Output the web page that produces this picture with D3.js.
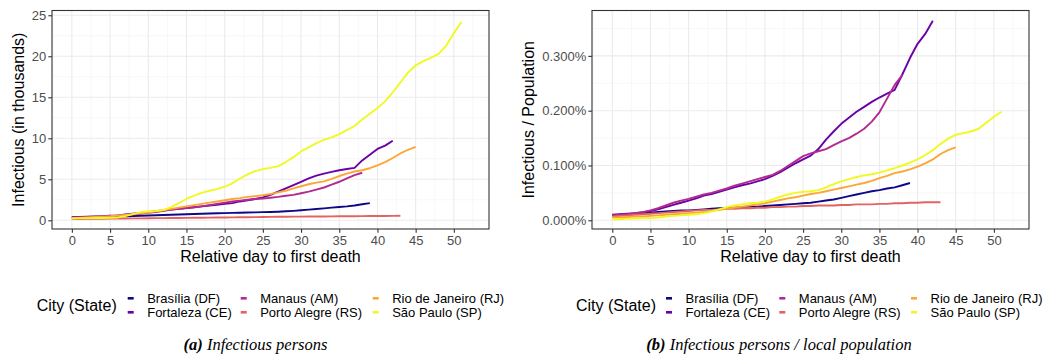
<!DOCTYPE html>
<html><head><meta charset="utf-8">
<script src="https://cdn.jsdelivr.net/npm/d3@7"></script>
<style>body{margin:0;background:#fff}</style>
</head><body>
<svg id="c" width="1045" height="356"></svg>
<script>
// ---- categories ----
const cities = ["Brasília (DF)", "Fortaleza (CE)", "Manaus (AM)", "Porto Alegre (RS)", "Rio de Janeiro (RJ)", "São Paulo (SP)"];
const cityColors = ["#0D0887", "#6A00A8", "#B12A90", "#E16462", "#FCA636", "#F0F921"];

// ---- panel (a): infectious persons, thousands, index = relative day ----
const brasiliaA = [0.35,0.37,0.39,0.41,0.43,0.45,0.47,0.5,0.53,0.56,0.59,0.62,0.65,0.68,0.71,0.74,0.77,0.8,0.83,0.86,0.88,0.9,0.93,0.95,0.97,1.0,1.02,1.05,1.1,1.15,1.22,1.3,1.38,1.46,1.55,1.63,1.7,1.8,1.95,2.1];
const fortalezaA = [0.4,0.42,0.45,0.48,0.5,0.55,0.6,0.7,0.8,0.9,1.0,1.1,1.2,1.3,1.4,1.5,1.6,1.7,1.8,1.9,2.0,2.1,2.3,2.45,2.6,2.8,3.1,3.5,3.9,4.3,4.7,5.1,5.45,5.7,5.9,6.1,6.25,6.4,7.3,8.0,8.7,9.1,9.7];
const manausA = [0.35,0.38,0.4,0.43,0.46,0.5,0.55,0.62,0.7,0.8,0.9,1.0,1.15,1.3,1.4,1.5,1.6,1.7,1.85,2.0,2.15,2.3,2.4,2.5,2.6,2.65,2.75,2.85,3.0,3.1,3.3,3.5,3.75,4.0,4.35,4.7,5.1,5.5,5.8];
const portoAlegreA = [0.15,0.16,0.17,0.18,0.19,0.2,0.21,0.22,0.23,0.24,0.25,0.26,0.27,0.28,0.29,0.3,0.31,0.32,0.33,0.34,0.35,0.36,0.37,0.38,0.39,0.41,0.42,0.44,0.44,0.45,0.45,0.46,0.47,0.47,0.48,0.49,0.5,0.5,0.51,0.52,0.53,0.53,0.54,0.55];
const rioA = [0.25,0.3,0.35,0.4,0.45,0.5,0.58,0.66,0.75,0.85,0.95,1.1,1.25,1.4,1.55,1.7,1.85,2.0,2.15,2.3,2.45,2.6,2.7,2.85,2.95,3.05,3.2,3.4,3.6,3.9,4.15,4.4,4.6,4.75,5.05,5.4,5.7,5.95,6.1,6.35,6.7,7.1,7.6,8.15,8.6,8.95];
const saoPauloA = [0.22,0.25,0.27,0.28,0.29,0.3,0.35,0.5,0.75,1.0,1.1,1.15,1.25,1.6,2.1,2.6,3.0,3.35,3.6,3.8,4.1,4.5,5.1,5.6,6.0,6.25,6.4,6.6,7.1,7.7,8.4,8.9,9.4,9.8,10.1,10.5,11.0,11.5,12.3,13.0,13.7,14.5,15.6,16.8,18.0,18.9,19.4,19.8,20.3,21.3,22.8,24.2];

// ---- panel (b): infectious / population, percent, index = relative day ----
const brasiliaB = [0.009,0.010,0.011,0.012,0.013,0.014,0.015,0.016,0.017,0.018,0.018,0.019,0.020,0.021,0.022,0.022,0.023,0.024,0.025,0.025,0.026,0.027,0.028,0.029,0.030,0.031,0.032,0.034,0.036,0.038,0.041,0.044,0.047,0.050,0.053,0.055,0.058,0.060,0.064,0.068];
const fortalezaB = [0.010,0.011,0.012,0.013,0.015,0.017,0.020,0.024,0.028,0.032,0.036,0.040,0.045,0.048,0.052,0.056,0.060,0.064,0.067,0.071,0.075,0.081,0.088,0.096,0.104,0.111,0.118,0.130,0.147,0.162,0.176,0.187,0.198,0.207,0.216,0.224,0.231,0.238,0.266,0.296,0.322,0.340,0.364];
const manausB = [0.009,0.010,0.011,0.013,0.015,0.018,0.022,0.027,0.032,0.036,0.039,0.043,0.047,0.050,0.054,0.058,0.063,0.067,0.071,0.075,0.079,0.083,0.090,0.099,0.108,0.117,0.122,0.126,0.130,0.137,0.144,0.150,0.158,0.167,0.180,0.197,0.222,0.247,0.265];
const portoAlegreB = [0.007,0.008,0.009,0.010,0.011,0.012,0.013,0.014,0.015,0.016,0.017,0.018,0.019,0.019,0.020,0.021,0.021,0.022,0.022,0.023,0.023,0.024,0.024,0.025,0.025,0.026,0.026,0.027,0.027,0.027,0.028,0.028,0.029,0.029,0.029,0.030,0.030,0.031,0.031,0.032,0.032,0.033,0.033,0.033];
const rioB = [0.005,0.005,0.006,0.007,0.007,0.008,0.009,0.010,0.011,0.012,0.013,0.014,0.015,0.017,0.019,0.021,0.023,0.025,0.027,0.029,0.031,0.034,0.037,0.040,0.042,0.045,0.048,0.050,0.053,0.056,0.059,0.062,0.065,0.068,0.072,0.077,0.081,0.086,0.089,0.093,0.098,0.104,0.111,0.121,0.128,0.133];
const saoPauloB = [0.002,0.002,0.003,0.003,0.004,0.004,0.005,0.007,0.008,0.009,0.010,0.011,0.013,0.016,0.020,0.024,0.027,0.029,0.031,0.032,0.034,0.038,0.043,0.047,0.050,0.052,0.053,0.055,0.060,0.066,0.071,0.075,0.079,0.082,0.084,0.087,0.091,0.095,0.100,0.105,0.111,0.119,0.128,0.139,0.149,0.156,0.159,0.162,0.167,0.178,0.189,0.198];

// ---- ticks ----
const xTicks = [0,5,10,15,20,25,30,35,40,45,50];
const xMinor = [-2.5,2.5,7.5,12.5,17.5,22.5,27.5,32.5,37.5,42.5,47.5,52.5];
const yTicksA = [0,5,10,15,20,25];
const yMinorA = [2.5,7.5,12.5,17.5,22.5];
const yTicksB = [0,0.1,0.2,0.3];
const yMinorB = [0.05,0.15,0.25,0.35];

const svg = d3.select("#c");
svg.append("rect").attr("width",1045).attr("height",356).attr("fill","#fff");
const FONT = "'Liberation Sans', Arial, Helvetica, sans-serif";

const panels = [
  {left:52, right:489, top:10.5, bottom:229, xDom:[-2.6,54.6], yDom:[-1.06,25.58],
   yTicks:yTicksA, yMinor:yMinorA, fmt:d=>String(d), ytitle:"Infectious (in thousands)", ytitleX:18.5,
   series:[brasiliaA,fortalezaA,manausA,portoAlegreA,rioA,saoPauloA],
   legend:{titleX:36.7, cols:[127.7,240.7,372.7]},
   caption:{x:255.5, bold:"(a)", rest:" Infectious persons"}},
  {left:592, right:1029, top:10.5, bottom:229, xDom:[-2.66,54.6], yDom:[-0.0159,0.3828],
   yTicks:yTicksB, yMinor:yMinorB, fmt:d=>d.toFixed(3)+"%", ytitle:"Infectious / Population", ytitleX:528.5,
   series:[brasiliaB,fortalezaB,manausB,portoAlegreB,rioB,saoPauloB],
   legend:{titleX:576, cols:[666,779.3,911]},
   caption:{x:779, bold:"(b)", rest:" Infectious persons / local population"}}
];

panels.forEach(p => {
  const x = d3.scaleLinear().domain(p.xDom).range([p.left,p.right]);
  const y = d3.scaleLinear().domain(p.yDom).range([p.bottom,p.top]);
  const g = svg.append("g");
  // minor grid
  g.selectAll(".vmin").data(xMinor).join("line")
    .attr("x1",d=>x(d)).attr("x2",d=>x(d)).attr("y1",p.top).attr("y2",p.bottom)
    .attr("stroke","#F2F2F2").attr("stroke-width",0.6);
  g.selectAll(".hmin").data(p.yMinor).join("line")
    .attr("y1",d=>y(d)).attr("y2",d=>y(d)).attr("x1",p.left).attr("x2",p.right)
    .attr("stroke","#F2F2F2").attr("stroke-width",0.6);
  // major grid
  g.selectAll(".vmaj").data(xTicks).join("line")
    .attr("x1",d=>x(d)).attr("x2",d=>x(d)).attr("y1",p.top).attr("y2",p.bottom)
    .attr("stroke","#EBEBEB").attr("stroke-width",1.1);
  g.selectAll(".hmaj").data(p.yTicks).join("line")
    .attr("y1",d=>y(d)).attr("y2",d=>y(d)).attr("x1",p.left).attr("x2",p.right)
    .attr("stroke","#EBEBEB").attr("stroke-width",1.1);

  // lines
  const line = d3.line().x((d,i)=>x(i)).y(d=>y(d));
  p.series.forEach((s,k) => {
    g.append("path").datum(s).attr("d",line).attr("fill","none")
      .attr("stroke",cityColors[k]).attr("stroke-width",1.9)
      .attr("stroke-linejoin","round").attr("stroke-linecap","butt");
  });

  // border
  g.append("rect").attr("x",p.left).attr("y",p.top).attr("width",p.right-p.left).attr("height",p.bottom-p.top)
    .attr("fill","none").attr("stroke","#333333").attr("stroke-width",1.1);

  // axes
  const ax = g.append("g").attr("transform",`translate(0,${p.bottom})`)
    .call(d3.axisBottom(x).tickValues(xTicks).tickSize(3.7).tickPadding(3.5).tickFormat(d=>String(d)));
  const ay = g.append("g").attr("transform",`translate(${p.left},0)`)
    .call(d3.axisLeft(y).tickValues(p.yTicks).tickSize(3.7).tickPadding(2).tickFormat(p.fmt));
  [ax,ay].forEach(a => {
    a.select(".domain").remove();
    a.selectAll(".tick line").attr("stroke","#333333").attr("stroke-width",1.1);
    a.selectAll(".tick text").attr("fill","#4D4D4D").style("font-family",FONT).style("font-size","13px");
  });

  // axis titles
  g.append("text").attr("x",(p.left+p.right)/2).attr("y",262).attr("text-anchor","middle")
    .style("font-family",FONT).style("font-size","16px").attr("fill","#000").text("Relative day to first death");
  g.append("text").attr("transform",`translate(${p.ytitleX+5.5},${(p.top+p.bottom)/2}) rotate(-90)`)
    .attr("text-anchor","middle").style("font-family",FONT).style("font-size","16px").attr("fill","#000").text(p.ytitle);

  // legend
  const L = p.legend;
  g.append("text").attr("x",L.titleX).attr("y",311).style("font-family",FONT).style("font-size","16px")
    .attr("fill","#000").text("City (State)");
  const rowsY = [298.3, 312.3];
  cities.forEach((c,k) => {
    const col = Math.floor(k/2), row = k%2;
    const kx = L.cols[col];
    g.append("line").attr("x1",kx).attr("x2",kx+6).attr("y1",rowsY[row]).attr("y2",rowsY[row])
      .attr("stroke",cityColors[k]).attr("stroke-width",2.6);
    g.append("text").attr("x",kx+19.5).attr("y",rowsY[row]+4.2).style("font-family",FONT).style("font-size","13px")
      .attr("fill","#000").text(c);
  });

  // caption
  const cap = g.append("text").attr("x",p.caption.x).attr("y",350).attr("text-anchor","middle")
    .style("font-family","'Liberation Serif', 'Times New Roman', serif").style("font-size","16.5px")
    .style("font-style","italic").attr("fill","#000");
  cap.append("tspan").style("font-weight","bold").text(p.caption.bold);
  cap.append("tspan").text(p.caption.rest);
});
</script>
</body></html>
